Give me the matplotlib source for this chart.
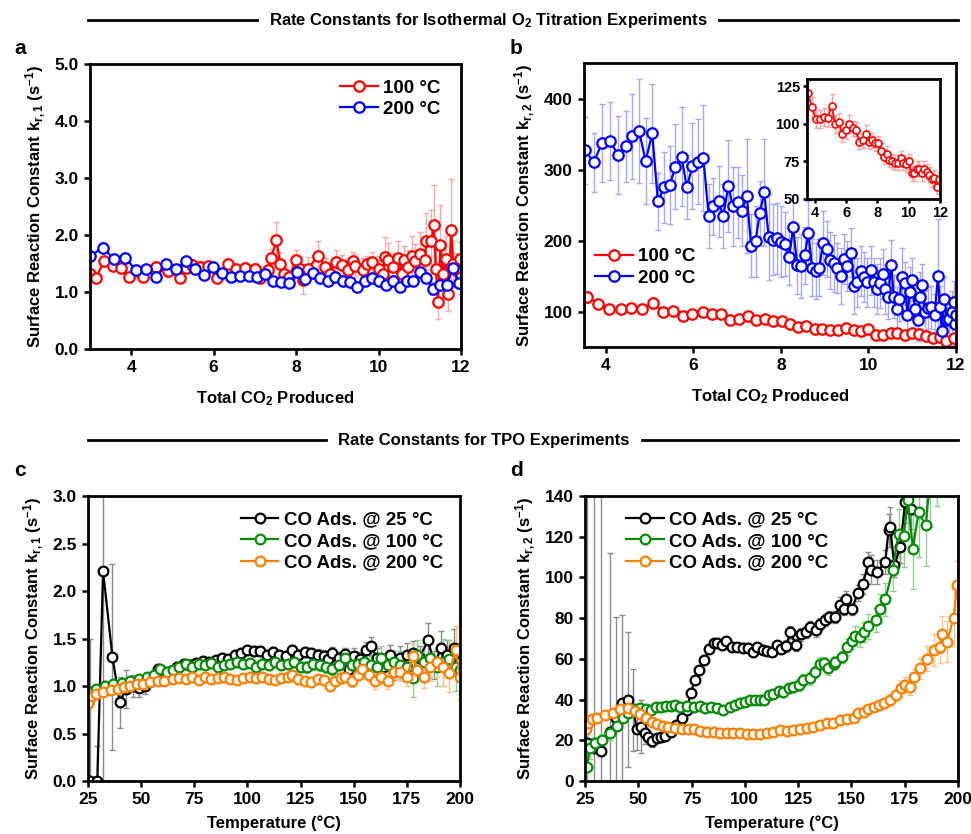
import matplotlib
matplotlib.use("Agg")
import matplotlib.pyplot as plt
from matplotlib.lines import Line2D

# ============================================
# Fonts / style
# ============================================
plt.rcParams['font.family'] = ['Liberation Sans', 'DejaVu Sans']
plt.rcParams['font.weight'] = 'bold'
plt.rcParams['axes.labelweight'] = 'bold'
plt.rcParams['mathtext.fontset'] = 'custom'
plt.rcParams['mathtext.rm'] = 'Liberation Sans:bold'
plt.rcParams['mathtext.it'] = 'Liberation Sans:bold'
plt.rcParams['mathtext.bf'] = 'Liberation Sans:bold'
plt.rcParams['mathtext.default'] = 'rm'

# ============================================
# Data: panel a (k_r,1, isothermal O2 titration)
# ============================================
a_x_100 = [3.0, 3.14, 3.34, 3.55, 3.74, 3.94, 4.28, 4.61, 4.89, 5.18, 5.33, 5.47, 5.68, 5.85, 6.09,
           6.34, 6.54, 6.77, 7.00, 7.12, 7.32, 7.40, 7.52, 7.61, 7.70, 7.83, 8.00, 8.09, 8.17, 8.29,
           8.53, 8.71, 8.82, 8.96, 9.12, 9.27, 9.37, 9.43, 9.63, 9.72, 9.84, 10.01, 10.10, 10.15, 10.23,
           10.36, 10.48, 10.56, 10.61, 10.72, 10.80, 10.88, 11.00, 11.12, 11.16, 11.28, 11.34, 11.39,
           11.44, 11.50, 11.56, 11.63, 11.69, 11.76, 11.81, 11.89, 11.97, 12.0]
a_y_100 = [1.32, 1.25, 1.54, 1.46, 1.42, 1.27, 1.27, 1.44, 1.37, 1.25, 1.43, 1.48, 1.44, 1.45, 1.25,
           1.50, 1.40, 1.43, 1.41, 1.25, 1.39, 1.60, 1.92, 1.50, 1.32, 1.27, 1.56, 1.41, 1.21, 1.41,
           1.64, 1.44, 1.32, 1.53, 1.47, 1.39, 1.55, 1.46, 1.39, 1.49, 1.52, 1.41, 1.32, 1.62, 1.56,
           1.44, 1.60, 1.32, 1.56, 1.44, 1.64, 1.55, 1.66, 1.56, 1.89, 1.89, 2.18, 1.40,
           0.83, 1.82, 1.32, 1.58, 0.96, 2.08, 1.50, 1.39, 1.58, 1.27]
a_e_100 = [0.1, 0.1, 0.1, 0.08, 0.08, 0.08, 0.08, 0.1, 0.1, 0.08, 0.1, 0.1, 0.1, 0.1, 0.1,
           0.1, 0.1, 0.1, 0.1, 0.1, 0.1, 0.15, 0.3, 0.2, 0.12, 0.12, 0.18, 0.2, 0.25, 0.2,
           0.25, 0.15, 0.15, 0.2, 0.18, 0.2, 0.15, 0.2, 0.2, 0.15, 0.18, 0.22, 0.25, 0.35, 0.3,
           0.25, 0.3, 0.3, 0.25, 0.3, 0.35, 0.3, 0.4, 0.35, 0.5, 0.55, 0.7, 0.4,
           0.3, 0.7, 0.4, 0.4, 0.3, 0.9, 0.4, 0.3, 0.3, 0.3]

a_x_200 = [3.0, 3.31, 3.58, 3.85, 4.11, 4.36, 4.61, 4.85, 5.09, 5.32, 5.55, 5.77, 5.99, 6.21, 6.43,
           6.64, 6.85, 7.05, 7.25, 7.44, 7.64, 7.83, 8.03, 8.22, 8.41, 8.58, 8.77, 8.95, 9.13, 9.30,
           9.48, 9.67, 9.84, 10.01, 10.18, 10.35, 10.52, 10.68, 10.84, 11.0, 11.16, 11.32, 11.48,
           11.65, 11.80, 11.95]
a_y_200 = [1.63, 1.78, 1.58, 1.60, 1.39, 1.40, 1.26, 1.50, 1.40, 1.54, 1.40, 1.30, 1.44, 1.33, 1.27,
           1.28, 1.29, 1.27, 1.32, 1.19, 1.17, 1.16, 1.35, 1.22, 1.33, 1.24, 1.19, 1.27, 1.19, 1.17,
           1.09, 1.19, 1.25, 1.19, 1.13, 1.19, 1.08, 1.19, 1.19, 1.35, 1.25, 1.06, 1.13,
           1.12, 1.43, 1.15]
a_e_200 = [0.08, 0.1, 0.08, 0.08, 0.06, 0.06, 0.06, 0.08, 0.06, 0.08, 0.06, 0.06, 0.06, 0.06, 0.06,
           0.06, 0.06, 0.06, 0.06, 0.06, 0.06, 0.06, 0.06, 0.06, 0.06, 0.06, 0.06, 0.06, 0.06, 0.06,
           0.06, 0.06, 0.06, 0.06, 0.06, 0.06, 0.06, 0.06, 0.06, 0.08, 0.1, 0.12, 0.1,
           0.1, 0.12, 0.1]

# ============================================
# Data: panel b (k_r,2, isothermal O2 titration)
# ============================================
b_x_100 = [3.56, 3.82, 4.08, 4.34, 4.58, 4.83, 5.07, 5.30, 5.53, 5.76, 5.98, 6.21, 6.42, 6.63, 6.84,
           7.05, 7.24, 7.43, 7.64, 7.83, 8.03, 8.21, 8.40, 8.58, 8.77, 8.95, 9.13, 9.31, 9.49, 9.66,
           9.83, 10.0, 10.18, 10.34, 10.51, 10.66, 10.83, 10.99, 11.15, 11.32, 11.48, 11.63, 11.78, 11.95]
b_y_100 = [120.6, 111, 103, 103, 104.5, 104, 112, 100, 101, 93, 96, 100, 97, 96, 88,
           89, 93, 88, 89, 87, 87, 82, 78, 80, 76, 75, 74, 74, 77, 74,
           73, 75, 67, 67, 70, 70, 67, 70, 68, 66, 63, 64, 58, 63]
b_e_100 = [8, 7, 6, 6, 6, 6, 8, 6, 6, 5, 6, 6, 5, 5, 5,
           5, 6, 5, 5, 5, 5, 5, 5, 5, 5, 5, 5, 5, 5, 5,
           5, 5, 5, 5, 5, 5, 5, 5, 5, 5, 5, 5, 5, 5]

b_x_200 = [3.53, 3.72, 3.91, 4.10, 4.28, 4.45, 4.60, 4.76, 4.91, 5.06,
           5.19, 5.33, 5.46, 5.59, 5.73, 5.85, 5.98, 6.10, 6.23, 6.35,
           6.45, 6.58, 6.68, 6.80, 6.90, 7.01, 7.11, 7.22, 7.32, 7.42,
           7.52, 7.62, 7.72, 7.82, 7.92, 8.01, 8.10, 8.19, 8.28, 8.37,
           8.46, 8.54, 8.63, 8.71, 8.80, 8.88, 8.96, 9.06, 9.13, 9.22,
           9.29, 9.37, 9.44, 9.51, 9.60, 9.67, 9.75, 9.82, 9.90, 9.97,
           10.05, 10.12, 10.19, 10.26, 10.33, 10.39, 10.45, 10.52, 10.58, 10.65,
           10.71, 10.77, 10.84, 10.89, 10.95, 11.0, 11.06, 11.13, 11.17, 11.23,
           11.29, 11.37, 11.43, 11.51, 11.59, 11.63, 11.68, 11.73, 11.79, 11.85,
           11.91, 11.96, 11.98, 12.0]
b_y_200 = [327, 310, 337, 340, 320, 333, 347, 354, 312, 351,
           255, 275, 278, 304, 318, 275, 305, 311, 316, 234,
           248, 255, 234, 277, 248, 254, 242, 263, 193, 199,
           239, 268, 205, 201, 203, 198, 195, 177, 219, 165,
           164, 179, 210, 162, 157, 162, 197, 188, 172, 168,
           161, 150, 174, 164, 183, 136, 141, 157, 149, 141,
           158, 141, 132, 140, 153, 132, 120, 166, 121, 104,
           117, 149, 140, 95, 128, 145, 104, 88, 120, 137,
           99, 105, 106, 95, 150, 106, 73, 118, 88, 89,
           99, 113, 83, 95]
b_e_200 = [47, 42, 55, 55, 55, 50, 60, 73, 60, 70,
           40, 50, 55, 60, 70, 45, 60, 60, 75, 45,
           40, 50, 45, 65, 55, 50, 50, 80, 45, 50,
           45, 75, 60, 50, 50, 50, 45, 40, 45, 40,
           45, 40, 45, 40, 40, 40, 45, 40, 40, 40,
           35, 40, 35, 35, 35, 40, 35, 35, 35, 35,
           35, 35, 35, 35, 35, 35, 30, 35, 30, 30,
           30, 40, 30, 30, 35, 30, 30, 30, 35, 30,
           30, 30, 30, 30, 80, 30, 30, 30, 30, 30,
           30, 30, 30, 30]

# ============================================
# Data: panel c (k_r,1, TPO)
# ============================================
c_x_25 = [25.8, 29.4, 32.1, 36.5, 39.9, 43, 46, 49, 52, 55, 58, 61, 64, 67, 70, 73, 76, 79, 82, 85,
          88, 91, 94, 97, 100, 103, 106, 109, 112, 115, 118, 121, 124, 127, 130, 133, 136, 138, 140, 143,
          146, 148, 150, 153, 156, 158, 161, 164, 167, 169, 172, 175, 178, 181, 185, 188, 191, 194, 197, 200]
c_y_25 = [0.0, 0.0, 2.21, 1.31, 0.83, 0.97, 1.0, 0.98, 1.0, 1.08, 1.18, 1.15, 1.16, 1.2, 1.23, 1.22, 1.24, 1.26, 1.25, 1.27,
          1.3, 1.28, 1.33, 1.35, 1.38, 1.37, 1.37, 1.33, 1.36, 1.33, 1.32, 1.38, 1.33, 1.36, 1.35, 1.33, 1.32, 1.28, 1.35, 1.3,
          1.34, 1.18, 1.32, 1.28, 1.38, 1.42, 1.3, 1.2, 1.33, 1.16, 1.3, 1.33, 1.35, 1.3, 1.48, 1.22, 1.4, 1.33, 1.4, 1.25]
c_e_25 = [1.5, 0.37, 2.3, 0.98, 0.27, 0.2, 0.12, 0.1, 0.08, 0.06, 0.05, 0.05, 0.05, 0.05, 0.05, 0.05, 0.05, 0.05, 0.05, 0.05,
          0.05, 0.05, 0.05, 0.05, 0.05, 0.05, 0.05, 0.05, 0.05, 0.05, 0.05, 0.05, 0.05, 0.05, 0.05, 0.06, 0.06, 0.06, 0.06, 0.06,
          0.06, 0.08, 0.08, 0.08, 0.08, 0.1, 0.1, 0.1, 0.1, 0.1, 0.12, 0.12, 0.12, 0.12, 0.18, 0.15, 0.18, 0.15, 0.2, 0.2]

c_x_100 = [25, 26.5, 29, 33, 37, 41, 45, 49, 53, 56, 59, 62, 65, 68, 71, 74, 77, 80, 83, 86,
           89, 92, 95, 98, 101, 104, 107, 110, 113, 116, 119, 122, 125, 128, 131, 134, 137, 140, 143, 146,
           149, 152, 155, 158, 161, 163, 166, 169, 172, 175, 178, 180, 183, 186, 189, 192, 195, 198, 200]
c_y_100 = [0.82, 0.94, 0.97, 1.0, 1.02, 1.03, 1.05, 1.07, 1.1, 1.12, 1.18, 1.15, 1.17, 1.2, 1.23, 1.2, 1.23, 1.22, 1.24, 1.2,
           1.22, 1.23, 1.25, 1.23, 1.24, 1.2, 1.23, 1.22, 1.25, 1.22, 1.23, 1.25, 1.2, 1.2, 1.23, 1.22, 1.2, 1.18, 1.22, 1.3,
           1.22, 1.23, 1.25, 1.22, 1.2, 1.3, 1.22, 1.25, 1.22, 1.2, 1.08, 1.33, 1.25, 1.3, 1.2, 1.25, 1.28, 1.2, 1.17]
c_e_100 = [0.12, 0.05, 0.04, 0.04, 0.04, 0.04, 0.04, 0.04, 0.04, 0.04, 0.04, 0.04, 0.04, 0.04, 0.04, 0.04, 0.04, 0.04, 0.04, 0.04,
           0.04, 0.04, 0.05, 0.05, 0.05, 0.05, 0.05, 0.05, 0.05, 0.05, 0.05, 0.05, 0.05, 0.06, 0.06, 0.06, 0.06, 0.06, 0.08, 0.1,
           0.1, 0.1, 0.1, 0.1, 0.12, 0.12, 0.12, 0.12, 0.15, 0.15, 0.2, 0.15, 0.2, 0.2, 0.2, 0.25, 0.2, 0.25, 0.25]

c_x_200 = [25, 27, 29, 32, 36, 39, 42, 45, 48, 51, 54, 58, 61, 65, 68, 71, 74, 77, 80, 83,
           86, 89, 92, 95, 98, 101, 104, 107, 110, 113, 116, 119, 121, 124, 127, 130, 133, 136, 139, 141,
           144, 146, 149, 152, 154, 157, 160, 163, 166, 169, 172, 175, 178, 180, 183, 186, 189, 192, 195, 198, 200]
c_y_200 = [0.82, 0.9, 0.92, 0.94, 0.96, 0.97, 0.99, 1.0, 1.02, 1.02, 1.04, 1.05, 1.05, 1.07, 1.08, 1.07, 1.09, 1.06, 1.1, 1.07,
           1.08, 1.09, 1.07, 1.06, 1.08, 1.09, 1.08, 1.1, 1.07, 1.06, 1.08, 1.1, 1.12, 1.07, 1.05, 1.04, 1.07, 1.06, 1.0, 1.05,
           1.08, 1.1, 1.05, 1.12, 1.18, 1.12, 1.05, 1.1, 1.05, 1.15, 1.15, 1.1, 1.32, 1.17, 1.1, 1.2, 1.25, 1.2, 1.14, 1.38, 1.1]
c_e_200 = [0.05, 0.03, 0.03, 0.03, 0.03, 0.03, 0.03, 0.03, 0.03, 0.03, 0.03, 0.03, 0.03, 0.03, 0.03, 0.03, 0.03, 0.03, 0.03, 0.03,
           0.03, 0.03, 0.03, 0.03, 0.03, 0.03, 0.03, 0.03, 0.03, 0.03, 0.04, 0.04, 0.04, 0.04, 0.04, 0.05, 0.05, 0.05, 0.05, 0.05,
           0.06, 0.06, 0.06, 0.06, 0.06, 0.08, 0.08, 0.08, 0.08, 0.08, 0.1, 0.1, 0.12, 0.12, 0.12, 0.15, 0.15, 0.2, 0.2, 0.25, 0.25]

# ============================================
# Data: panel d (k_r,2, TPO)
# ============================================
d_x_25 = [25.8, 29, 32.4, 36.7, 39.6, 42.2, 45.3, 47.7, 49.3, 51.1, 53.2, 54.7, 56.3, 58.6, 60.5,
          62.7, 65.2, 67.7, 70.4, 72.7, 74.6, 76.6, 78.7, 81, 83.2, 85.3, 87.1, 89.2, 91.2, 93.9,
          96.5, 99, 101.4, 103.7, 105.9, 108.3, 110.3, 112.6, 115, 116.9, 119.4, 121.2, 124.1, 126.3, 128.6,
          130.6, 133.5, 135.3, 137.7, 139.7, 142.2, 144.7, 146.6, 147.5, 150.4, 152.9, 155.4, 158, 159.4, 161.9,
          165.9, 167.4, 168.2, 170.1, 172.9, 175.2, 177.9, 180, 183, 186, 190]
d_y_25 = [18.5, 16, 15, 24, 30.8, 38.4, 40, 34.8, 25.4, 26.7, 23.4, 21.4, 19.8, 21, 21.8,
          22, 24.2, 27.5, 30.8, 34.8, 43.4, 49.6, 54.5, 59.4, 65, 68, 67.6, 66.7, 68.7, 66,
          66, 65.6, 65.6, 63.5, 66, 64.3, 64, 63.5, 66.7, 65, 66.4, 73, 67, 72, 73.3,
          75.7, 74, 77, 79, 80.7, 80.7, 86.4, 84.7, 89.6, 84.7, 92.4, 96.7, 107.6, 103.9, 102.7,
          107.6, 123.2, 124.8, 106, 115, 137, 133.8, 150, 160, 170, 180]
d_e_25 = [150, 150, 150, 88, 50, 43, 33, 20, 10, 13, 5, 3, 3, 2, 2,
          2, 2, 2, 2, 2, 2, 2, 2, 2, 2, 2, 2, 2, 2, 2,
          2, 2, 2, 2, 2, 2, 2, 2, 2, 2, 3, 3, 3, 3, 3,
          3, 3, 3, 3, 3, 3, 4, 3, 4, 3, 4, 5, 5, 7, 6,
          6, 8, 10, 6, 8, 10, 10, 10, 10, 10, 10]

d_x_100 = [25.8, 27.3, 29.7, 32.8, 36.7, 39.9, 43, 45.3, 48.5, 50.8, 53.6, 56, 58.3, 60.5, 63,
           65.2, 67.3, 69.6, 72.7, 75.9, 79, 81.3, 84, 86.8, 89.6, 92.8, 95.4, 97.8, 100.1, 102.5,
           104.8, 107.2, 109, 111.1, 113.4, 115.8, 118.1, 120.5, 122.8, 125.2, 127.5, 130.6, 133, 135.3, 136.9,
           139.2, 141.6, 142.4, 145.5, 147.9, 150.2, 151.8, 154.1, 156, 158, 161.6, 163.5, 165.9, 169.3, 172.1,
           174.5, 176.5, 178.8, 181.5, 184.9, 187, 190, 194, 198]
d_y_100 = [6.7, 16, 18.5, 20.1, 23.4, 27.2, 30.8, 33.2, 35.2, 35.7, 35.2, 34.8, 36.5, 36.5, 36.8,
           36.8, 37.3, 36.5, 37.1, 36.5, 36.8, 35.7, 36.2, 36, 34.8, 36.5, 37.3, 38.4, 39, 40,
           39.8, 40, 40, 42.2, 43, 44.3, 43.8, 45.5, 46.3, 47.1, 49.6, 50.4, 53.7, 57.7, 58,
           55.3, 57.7, 58.6, 61, 65.9, 68.9, 71.2, 70.8, 73.3, 76, 79, 84.7, 89.2, 103.6, 121.5,
           120.2, 138, 114.2, 132, 125.6, 150, 160, 170, 185]
d_e_100 = [8, 5, 3, 3, 3, 2, 2, 2, 2, 2, 2, 2, 2, 2, 2,
           2, 2, 2, 2, 2, 2, 2, 2, 2, 2, 2, 2, 2, 2, 2,
           2, 2, 2, 2, 2, 2, 2, 2, 2, 3, 3, 3, 3, 3, 3,
           3, 3, 3, 3, 4, 4, 5, 5, 5, 6, 6, 7, 8, 10, 12,
           15, 18, 20, 22, 20, 25, 25, 25, 25]

d_x_200 = [25.5, 26.6, 28.1, 30.8, 34.4, 38.3, 41.4, 45.3, 48.5, 50.8, 53.6, 56.3, 58.6, 61.5, 64.1,
           67.3, 70.4, 73.5, 76.2, 79, 82.1, 85.3, 88.4, 91.5, 94.6, 97.8, 100.9, 104, 107.2, 110.3,
           113.4, 116.6, 119.7, 122.8, 125.9, 129.1, 132.2, 135.3, 138.5, 141.3, 144.7, 147.9, 151, 153.3, 155.7,
           158, 160.4, 162.8, 165.4, 168.2, 171.1, 173.2, 175.2, 177.3, 179.2, 182.3, 185.4, 188.6, 191.4, 192.5,
           194.8, 198, 199.5]
d_y_200 = [25.8, 28.6, 30.3, 31.2, 32.4, 33.2, 35.2, 36, 34.5, 32.7, 30.8, 29.1, 28, 27, 26.7,
           26.3, 25.8, 25.4, 25.4, 24.7, 24.2, 23.9, 23.4, 23.7, 23.7, 23.4, 23.1, 22.9, 23.1, 23.7,
           23.9, 25, 24.7, 25, 25.8, 26.2, 26.7, 27.5, 28.3, 28.6, 29.9, 30.3, 31.2, 33.5, 34,
           35.2, 36.5, 37.3, 38.4, 39.8, 42.2, 45.5, 47.1, 46.3, 51.2, 55.3, 60.2, 64.3, 65.9, 72.1,
           68.4, 80.3, 96.2]
d_e_200 = [3, 2, 2, 2, 2, 1.5, 1.5, 1.5, 1.5, 1.5, 1.5, 1.5, 1.5, 1.5, 1.5,
           1.5, 1.5, 1.5, 1.5, 1.5, 1.5, 1.5, 1.5, 1.5, 1.5, 1.5, 1.5, 1.5, 1.5, 1.5,
           1.5, 1.5, 1.5, 1.5, 1.5, 2, 2, 2, 2, 2, 2, 2, 2, 2, 2,
           2, 2, 2, 2, 3, 3, 4, 4, 4, 4, 5, 6, 8, 8, 9,
           10, 14, 12]

# Series colours (line, error bar)
RED, RED_L = '#ff0000', '#f7a8a8'
BLUE, BLUE_L = '#0000ff', '#a8a8f2'
BLACK, BLACK_L = '#000000', '#8c8c8c'
GREEN, GREEN_L = '#078a07', '#8fcf8f'
ORANGE, ORANGE_L = '#ff8000', '#ffc38a'

TICK_FS = 12.5
LABEL_FS = 12


def series(ax, x, y, e, color, light, label, ms=7.0, mew=1.6, lw=1.6, cap=2.5):
    ax.errorbar(x, y, yerr=e, fmt='none', ecolor=light, elinewidth=1.0,
                capsize=cap, capthick=1.0, zorder=1)
    ax.plot(x, y, '-o', color=color, mfc='white', mec=color, ms=ms, mew=mew,
            lw=lw, label=label, zorder=2)


def style(ax, fs=TICK_FS):
    for s in ax.spines.values():
        s.set_linewidth(2.0)
    ax.tick_params(direction='out', width=1.8, length=4.5, labelsize=fs)
    for t in ax.get_xticklabels() + ax.get_yticklabels():
        t.set_fontweight('bold')


# ============================================
# Figure
# ============================================
fig = plt.figure(figsize=(9.71, 8.34), dpi=100)

ax_a = fig.add_axes([0.0927, 0.5815, 0.3821, 0.3417])
ax_b = fig.add_axes([0.6014, 0.5839, 0.3831, 0.3405])
ax_c = fig.add_axes([0.0906, 0.0635, 0.3831, 0.3417])
ax_d = fig.add_axes([0.6025, 0.0635, 0.3841, 0.3417])

ylab1 = 'Surface Reaction Constant k$_{r,1}$ (s$^{-1}$)'
ylab2 = 'Surface Reaction Constant k$_{r,2}$ (s$^{-1}$)'
leg_kw = dict(frameon=False, prop={'weight': 'bold', 'size': 13.5}, handlelength=2.0,
              handletextpad=0.3, labelspacing=0.22, borderaxespad=0.2)

# ---- panel a
series(ax_a, a_x_100, a_y_100, a_e_100, RED, RED_L, '100 °C', ms=7.5)
series(ax_a, a_x_200, a_y_200, a_e_200, BLUE, BLUE_L, '200 °C', ms=7.5)
ax_a.set_xlim(3, 12)
ax_a.set_ylim(0, 5)
ax_a.set_xticks([4, 6, 8, 10, 12])
ax_a.set_yticks([0, 1, 2, 3, 4, 5])
ax_a.set_yticklabels(['0.0', '1.0', '2.0', '3.0', '4.0', '5.0'])
ax_a.set_xlabel('Total CO$_2$ Produced', fontsize=LABEL_FS, labelpad=10)
ax_a.set_ylabel(ylab1, fontsize=LABEL_FS, labelpad=5)
style(ax_a)
ax_a.legend(loc='upper right', bbox_to_anchor=(0.975, 0.985), **leg_kw)

# ---- panel b
series(ax_b, b_x_100, b_y_100, b_e_100, RED, RED_L, '100 °C', ms=7.5)
series(ax_b, b_x_200, b_y_200, b_e_200, BLUE, BLUE_L, '200 °C', ms=7.5)
ax_b.set_xlim(3.5, 12)
ax_b.set_ylim(50, 450)
ax_b.set_xticks([4, 6, 8, 10, 12])
ax_b.set_yticks([100, 200, 300, 400])
ax_b.set_xlabel('Total CO$_2$ Produced', fontsize=LABEL_FS, labelpad=10)
ax_b.set_ylabel(ylab2, fontsize=LABEL_FS, labelpad=5)
style(ax_b)
ax_b.legend(loc='center left', bbox_to_anchor=(0.0, 0.28), **leg_kw)

# inset in b
ax_in = fig.add_axes([0.8311, 0.7614, 0.1370, 0.1439])
series(ax_in, b_x_100, b_y_100, b_e_100, RED, RED_L, None, ms=5, mew=1.2, lw=1.2, cap=1.8)
ax_in.set_xlim(3.5, 12)
ax_in.set_ylim(50, 130)
ax_in.set_xticks([4, 6, 8, 10, 12])
ax_in.set_yticks([50, 75, 100, 125])
style(ax_in, fs=10.5)
ax_in.tick_params(length=3, pad=2)
ax_in.set_facecolor('white')

# ---- panel c
series(ax_c, c_x_25, c_y_25, c_e_25, BLACK, BLACK_L, 'CO Ads. @ 25 °C', ms=7)
series(ax_c, c_x_100, c_y_100, c_e_100, GREEN, GREEN_L, 'CO Ads. @ 100 °C', ms=7)
series(ax_c, c_x_200, c_y_200, c_e_200, ORANGE, ORANGE_L, 'CO Ads. @ 200 °C', ms=7)
ax_c.set_xlim(25, 200)
ax_c.set_ylim(0, 3)
ax_c.set_xticks([25, 50, 75, 100, 125, 150, 175, 200])
ax_c.set_yticks([0, 0.5, 1.0, 1.5, 2.0, 2.5, 3.0])
ax_c.set_yticklabels(['0.0', '0.5', '1.0', '1.5', '2.0', '2.5', '3.0'])
ax_c.set_xlabel('Temperature (°C)', fontsize=LABEL_FS, labelpad=6)
ax_c.set_ylabel(ylab1, fontsize=LABEL_FS, labelpad=5)
style(ax_c)
ax_c.legend(loc='upper right', bbox_to_anchor=(0.985, 0.985), **leg_kw)

# ---- panel d
series(ax_d, d_x_25, d_y_25, d_e_25, BLACK, BLACK_L, 'CO Ads. @ 25 °C', ms=7)
series(ax_d, d_x_100, d_y_100, d_e_100, GREEN, GREEN_L, 'CO Ads. @ 100 °C', ms=7)
series(ax_d, d_x_200, d_y_200, d_e_200, ORANGE, ORANGE_L, 'CO Ads. @ 200 °C', ms=7)
ax_d.set_xlim(25, 200)
ax_d.set_ylim(0, 140)
ax_d.set_xticks([25, 50, 75, 100, 125, 150, 175, 200])
ax_d.set_yticks([0, 20, 40, 60, 80, 100, 120, 140])
ax_d.set_xlabel('Temperature (°C)', fontsize=LABEL_FS, labelpad=6)
ax_d.set_ylabel(ylab2, fontsize=LABEL_FS, labelpad=5)
style(ax_d)
ax_d.legend(loc='upper left', bbox_to_anchor=(0.08, 0.985), **leg_kw)

# ============================================
# Section headers and panel letters
# ============================================
W, H = 971.0, 834.0
renderer = fig.canvas.get_renderer()


def header(text, y_px, x_text, x_left, x_right, gap=12):
    # centred bold title with a rule on each side, rules stop short of the text
    y = 1 - y_px / H
    t = fig.text(x_text / W, y, text, ha='center', va='center', fontsize=12, fontweight='bold')
    bb = t.get_window_extent(renderer=renderer)
    for x0, x1 in ((x_left, bb.x0 - gap), (bb.x1 + gap, x_right)):
        fig.add_artist(Line2D([x0 / W, x1 / W], [y, y], color='black', lw=2.0,
                              transform=fig.transFigure))


header('Rate Constants for Isothermal O$_2$ Titration Experiments', 20, 488, 88, 958)
header('Rate Constants for TPO Experiments', 440, 484, 88, 958)

for letter, xp, yp in (('a', 14, 48), ('b', 510, 48), ('c', 14, 470), ('d', 510, 470)):
    fig.text(xp / W, 1 - yp / H, letter, ha='left', va='center', fontsize=15, fontweight='bold')

fig.savefig('out.png', dpi=100)
